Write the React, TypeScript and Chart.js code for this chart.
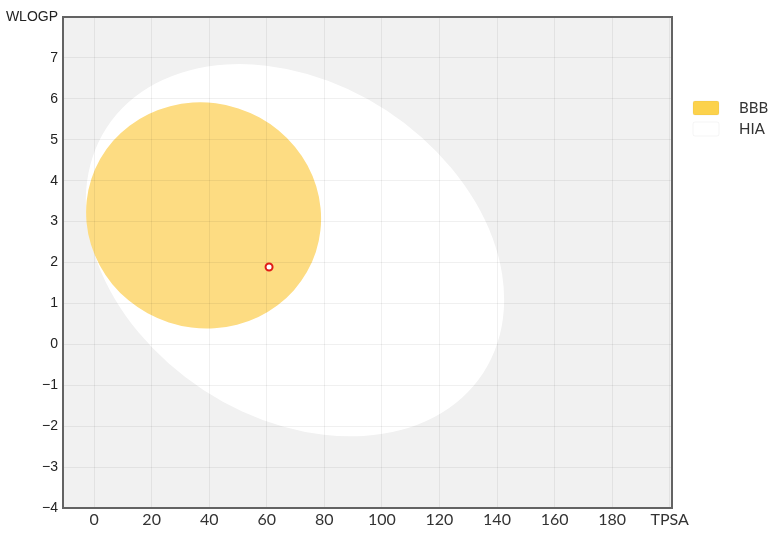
import React, { useEffect, useRef } from 'react';
import { Chart, registerables } from 'chart.js';

Chart.register(...registerables);

// ---- data ----
const xTickValues = [0, 20, 40, 60, 80, 100, 120, 140, 160, 180, 200];
const xTickLabels = ['0', '20', '40', '60', '80', '100', '120', '140', '160', '180', 'TPSA'];
const yTickValues = [-4, -3, -2, -1, 0, 1, 2, 3, 4, 5, 6, 7, 8];
const yTickLabels = ['−4', '−3', '−2', '−1', '0', '1', '2', '3', '4', '5', '6', '7', 'WLOGP'];

const moleculeTPSA = [60.8];
const moleculeWLOGP = [1.89];

// ellipses (egg white = HIA, yolk = BBB), in data units
const ellipseLabels = ['HIA', 'BBB'];
const ellipseCenterTPSA = [69.8, 38.05];
const ellipseCenterWLOGP = [2.3, 3.15];
const ellipseAxis1TPSA = [65.4, 39.0];
const ellipseAxis1WLOGP = [-3.0, -0.892];
const ellipseAxis2TPSA = [-31.7, -12.08];
const ellipseAxis2WLOGP = [-3.42, -2.616];

const legendLabels = ['BBB', 'HIA'];

// ---- styles ----
const ellipseFill: Record<string, string> = { HIA: '#ffffff', BBB: '#FDDC82' };
const legendFill: Record<string, string> = { BBB: '#FCD24C', HIA: '#ffffff' };

const eggPlugin = {
  id: 'egg',
  beforeDraw(chart: any) {
    const { ctx, chartArea: a, scales } = chart;
    const xs = scales.x;
    const ys = scales.y;
    ctx.save();
    ctx.fillStyle = '#f1f1f1';
    ctx.fillRect(a.left, a.top, a.right - a.left, a.bottom - a.top);
    ctx.beginPath();
    ctx.rect(a.left, a.top, a.right - a.left, a.bottom - a.top);
    ctx.clip();
    ellipseLabels.forEach((lab, i) => {
      const cx = xs.getPixelForValue(ellipseCenterTPSA[i]);
      const cy = ys.getPixelForValue(ellipseCenterWLOGP[i]);
      const ux = xs.getPixelForValue(ellipseCenterTPSA[i] + ellipseAxis1TPSA[i]) - cx;
      const uy = ys.getPixelForValue(ellipseCenterWLOGP[i] + ellipseAxis1WLOGP[i]) - cy;
      const vx = xs.getPixelForValue(ellipseCenterTPSA[i] + ellipseAxis2TPSA[i]) - cx;
      const vy = ys.getPixelForValue(ellipseCenterWLOGP[i] + ellipseAxis2WLOGP[i]) - cy;
      ctx.save();
      ctx.transform(ux, uy, vx, vy, cx, cy);
      ctx.beginPath();
      ctx.arc(0, 0, 1, 0, Math.PI * 2);
      ctx.restore();
      ctx.fillStyle = ellipseFill[lab];
      ctx.fill();
    });
    ctx.restore();
  },
  afterDraw(chart: any) {
    const { ctx, chartArea: a } = chart;
    ctx.save();
    ctx.strokeStyle = '#636363';
    ctx.lineWidth = 2;
    ctx.strokeRect(a.left, a.top, a.right - a.left, a.bottom - a.top);
    // legend
    const bx = a.right + 21;
    let by = a.top + 84;
    ctx.font = '15px Lato, "Open Sans", sans-serif';
    ctx.textBaseline = 'middle';
    ctx.textAlign = 'left';
    legendLabels.forEach((lab) => {
      ctx.fillStyle = legendFill[lab];
      ctx.beginPath();
      if ((ctx as any).roundRect) (ctx as any).roundRect(bx, by, 26, 14, 2);
      else ctx.rect(bx, by, 26, 14);
      ctx.fill();
      ctx.strokeStyle = 'rgba(0,0,0,0.04)';
      ctx.lineWidth = 1;
      ctx.stroke();
      ctx.fillStyle = '#333333';
      ctx.fillText(lab, bx + 46, by + 7.5);
      by += 21;
    });
    ctx.restore();
  },
};

export default function App() {
  const ref = useRef<HTMLCanvasElement | null>(null);
  useEffect(() => {
    if (!ref.current) return;
    const chart = new Chart(ref.current, {
      type: 'scatter',
      data: {
        datasets: [
          {
            label: 'Molecule',
            data: moleculeTPSA.map((v, i) => ({ x: v, y: moleculeWLOGP[i] })),
            pointRadius: 3.5,
            pointBorderWidth: 2,
            borderColor: '#e01b17',
            backgroundColor: '#ffffff',
          },
        ],
      },
      options: {
        responsive: false,
        animation: false,
        layout: { padding: { top: 17, right: 99, left: 0, bottom: 0 } },
        plugins: { legend: { display: false }, tooltip: { enabled: false } },
        scales: {
          x: {
            type: 'linear',
            min: -10.8,
            max: 200.8,
            afterBuildTicks: (s: any) => {
              s.ticks = xTickValues.map((v) => ({ value: v }));
            },
            afterFit: (s: any) => {
              s.height = 29;
            },
            grid: { color: 'rgba(0,0,0,0.06)', drawTicks: false },
            border: { display: false },
            ticks: {
              autoSkip: false,
              maxRotation: 0,
              padding: 2,
              color: '#333333',
              font: { family: 'Lato, "Open Sans", sans-serif', size: 16 },
              callback: (_v: any, i: number) => xTickLabels[i],
            },
          },
          y: {
            type: 'linear',
            min: -4,
            max: 8,
            afterBuildTicks: (s: any) => {
              s.ticks = yTickValues.map((v) => ({ value: v }));
            },
            afterFit: (s: any) => {
              s.width = 63;
            },
            grid: { color: 'rgba(0,0,0,0.06)', drawTicks: false },
            border: { display: false },
            ticks: {
              autoSkip: false,
              padding: 5,
              color: '#222222',
              font: { family: '"Liberation Sans", Arial, sans-serif', size: 14 },
              callback: (_v: any, i: number) => yTickLabels[i],
            },
          },
        },
      },
      plugins: [eggPlugin],
    });
    return () => chart.destroy();
  }, []);
  return (
    <div style={{ position: 'absolute', left: 0, top: 0, width: 771, height: 537 }}>
      <canvas ref={ref} width={771} height={537} />
    </div>
  );
}
